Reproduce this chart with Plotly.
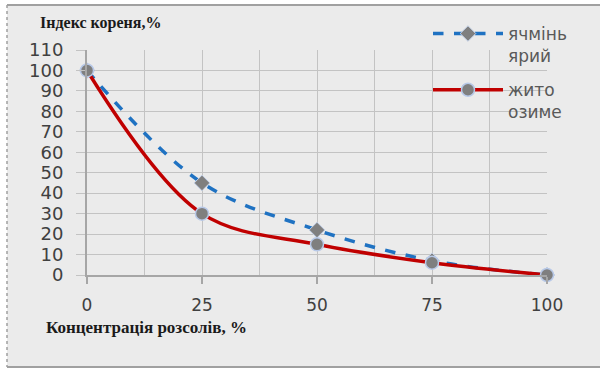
import plotly.graph_objects as go

conc = [0, 25, 50, 75, 100]
barley = [100, 45, 22, 7, 0]
rye = [100, 30, 15, 6, 0]
names = ["ячмінь<br>ярий", "жито<br>озиме"]
x_ticks = [0, 25, 50, 75, 100]
y_ticks = list(range(0, 111, 10))

L, R, T, B = 87, 53, 50, 94
W, H = 600, 369
pw, ph = W - L - R, H - T - B

def px(x):
    return (x - L) / pw

def py(y):
    return (H - B - y) / ph

fig = go.Figure()
fig.add_trace(go.Scatter(
    x=conc, y=barley, name=names[0], mode="lines+markers", legendgroup="a",
    line=dict(color="#1f72c2", width=3.5, dash="dash", shape="spline", smoothing=1.0),
    marker=dict(symbol="diamond", size=12, color="#7f7f7f", line=dict(color="#c5d3ea", width=1)),
    cliponaxis=False,
))
fig.add_trace(go.Scatter(
    x=conc, y=rye, name=names[1], mode="lines+markers", legendgroup="b",
    line=dict(color="#c00000", width=3.5, shape="spline", smoothing=1.0),
    marker=dict(symbol="circle", size=13, color="#7f7f7f", line=dict(color="#b8c9e8", width=1.5)),
    cliponaxis=False,
))

shapes = [
    dict(type="rect", xref="paper", yref="paper", x0=px(7), x1=px(601), y0=py(367), y1=py(5),
         fillcolor="#ebebeb", line=dict(width=0), layer="below"),
    dict(type="line", xref="paper", yref="paper", x0=px(7), x1=px(601), y0=py(5), y1=py(5),
         line=dict(color="#a0a0a0", width=2), layer="below"),
    dict(type="line", xref="paper", yref="paper", x0=px(7), x1=px(601), y0=py(367), y1=py(367),
         line=dict(color="#a0a0a0", width=2), layer="below"),
    dict(type="line", xref="paper", yref="paper", x0=px(7), x1=px(7), y0=py(5), y1=py(367),
         line=dict(color="#a0a0a0", width=1.5, dash="dot"), layer="below"),
]

fig.update_layout(
    width=W, height=H,
    margin=dict(l=L, r=R, t=T, b=B),
    paper_bgcolor="white",
    plot_bgcolor="rgba(0,0,0,0)",
    shapes=shapes,
    showlegend=True,
    legend=dict(x=px(428), y=py(16), xanchor="left", yanchor="top",
                bgcolor="rgba(0,0,0,0)", itemwidth=70, valign="top",
                font=dict(family="DejaVu Sans", size=17, color="#595959"),
                tracegroupgap=9),
    annotations=[
        dict(text="<b>Індекс кореня,%</b>", xref="paper", yref="paper", x=px(100), y=py(23),
             xanchor="center", yanchor="middle",
             showarrow=False, font=dict(family="Liberation Serif", size=16, color="#1a1a1a")),
        dict(text="<b>Концентрація розсолів, %</b>", xref="paper", yref="paper", x=px(146), y=py(327),
             xanchor="center", yanchor="middle",
             showarrow=False, font=dict(family="Liberation Serif", size=17, color="#1a1a1a")),
    ],
)
fig.update_xaxes(
    range=[0, 100], tickvals=x_ticks, ticks="outside", ticklen=7, tickcolor="#a6a6a6", tickwidth=1.5,
    showgrid=False, minor=dict(dtick=12.5, showgrid=True, gridcolor="#c3c3c3", gridwidth=1),
    showline=True, linecolor="#a6a6a6", linewidth=1.5, zeroline=False,
    tickfont=dict(family="DejaVu Sans", size=17, color="#404040"), ticklabelstandoff=7,
)
fig.update_yaxes(
    range=[0, 110], tickvals=y_ticks, ticks="outside", ticklen=9, tickcolor="#c3c3c3",
    showgrid=True, gridcolor="#c3c3c3", gridwidth=1,
    showline=True, linecolor="#a6a6a6", linewidth=2, zeroline=False,
    tickfont=dict(family="DejaVu Sans", size=18, color="#404040"), ticklabelstandoff=9,
)
fig.write_html("out.html", config={"displayModeBar": False},
               post_script="document.body.style.margin='0';")
